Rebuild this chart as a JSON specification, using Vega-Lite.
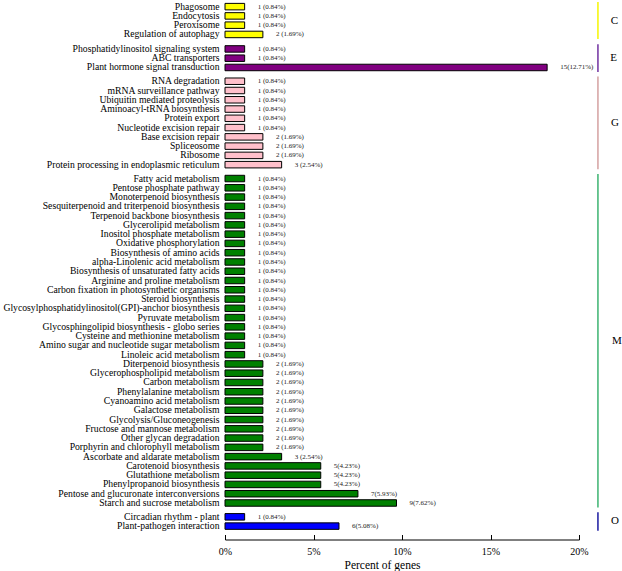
{
  "$schema": "https://vega.github.io/schema/vega-lite/v6.json",
  "padding": {"top": 1, "left": 0, "right": 0, "bottom": 0},
  "background": "white",
  "bounds": "flush",
  "data": {"values": [
    {"group": "C", "pathway": "Phagosome", "value": 1.11, "label": "1 (0.84%)"},
    {"group": "C", "pathway": "Endocytosis", "value": 1.11, "label": "1 (0.84%)"},
    {"group": "C", "pathway": "Peroxisome", "value": 1.11, "label": "1 (0.84%)"},
    {"group": "C", "pathway": "Regulation  of  autophagy", "value": 2.14, "label": "2 (1.69%)"},
    {"group": "E", "pathway": "Phosphatidylinositol  signaling  system", "value": 1.11, "label": "1 (0.84%)"},
    {"group": "E", "pathway": "ABC  transporters", "value": 1.11, "label": "1 (0.84%)"},
    {"group": "E", "pathway": "Plant  hormone  signal  transduction", "value": 18.2, "label": "15(12.71%)"},
    {"group": "G", "pathway": "RNA  degradation", "value": 1.11, "label": "1 (0.84%)"},
    {"group": "G", "pathway": "mRNA  surveillance  pathway", "value": 1.11, "label": "1 (0.84%)"},
    {"group": "G", "pathway": "Ubiquitin  mediated  proteolysis", "value": 1.11, "label": "1 (0.84%)"},
    {"group": "G", "pathway": "Aminoacyl-tRNA  biosynthesis", "value": 1.11, "label": "1 (0.84%)"},
    {"group": "G", "pathway": "Protein  export", "value": 1.11, "label": "1 (0.84%)"},
    {"group": "G", "pathway": "Nucleotide  excision  repair", "value": 1.11, "label": "1 (0.84%)"},
    {"group": "G", "pathway": "Base  excision  repair", "value": 2.14, "label": "2 (1.69%)"},
    {"group": "G", "pathway": "Spliceosome", "value": 2.14, "label": "2 (1.69%)"},
    {"group": "G", "pathway": "Ribosome", "value": 2.14, "label": "2 (1.69%)"},
    {"group": "G", "pathway": "Protein  processing  in  endoplasmic  reticulum", "value": 3.2, "label": "3 (2.54%)"},
    {"group": "M", "pathway": "Fatty  acid  metabolism", "value": 1.11, "label": "1 (0.84%)"},
    {"group": "M", "pathway": "Pentose  phosphate  pathway", "value": 1.11, "label": "1 (0.84%)"},
    {"group": "M", "pathway": "Monoterpenoid  biosynthesis", "value": 1.11, "label": "1 (0.84%)"},
    {"group": "M", "pathway": "Sesquiterpenoid  and  triterpenoid  biosynthesis", "value": 1.11, "label": "1 (0.84%)"},
    {"group": "M", "pathway": "Terpenoid  backbone  biosynthesis", "value": 1.11, "label": "1 (0.84%)"},
    {"group": "M", "pathway": "Glycerolipid  metabolism", "value": 1.11, "label": "1 (0.84%)"},
    {"group": "M", "pathway": "Inositol  phosphate  metabolism", "value": 1.11, "label": "1 (0.84%)"},
    {"group": "M", "pathway": "Oxidative  phosphorylation", "value": 1.11, "label": "1 (0.84%)"},
    {"group": "M", "pathway": "Biosynthesis  of  amino  acids", "value": 1.11, "label": "1 (0.84%)"},
    {"group": "M", "pathway": "alpha-Linolenic  acid  metabolism", "value": 1.11, "label": "1 (0.84%)"},
    {"group": "M", "pathway": "Biosynthesis  of  unsaturated  fatty  acids", "value": 1.11, "label": "1 (0.84%)"},
    {"group": "M", "pathway": "Arginine  and  proline  metabolism", "value": 1.11, "label": "1 (0.84%)"},
    {"group": "M", "pathway": "Carbon  fixation  in  photosynthetic  organisms", "value": 1.11, "label": "1 (0.84%)"},
    {"group": "M", "pathway": "Steroid  biosynthesis", "value": 1.11, "label": "1 (0.84%)"},
    {"group": "M", "pathway": "Glycosylphosphatidylinositol(GPI)-anchor  biosynthesis", "value": 1.11, "label": "1 (0.84%)"},
    {"group": "M", "pathway": "Pyruvate  metabolism", "value": 1.11, "label": "1 (0.84%)"},
    {"group": "M", "pathway": "Glycosphingolipid  biosynthesis  - globo  series", "value": 1.11, "label": "1 (0.84%)"},
    {"group": "M", "pathway": "Cysteine  and  methionine  metabolism", "value": 1.11, "label": "1 (0.84%)"},
    {"group": "M", "pathway": "Amino  sugar  and  nucleotide  sugar  metabolism", "value": 1.11, "label": "1 (0.84%)"},
    {"group": "M", "pathway": "Linoleic  acid  metabolism", "value": 1.11, "label": "1 (0.84%)"},
    {"group": "M", "pathway": "Diterpenoid  biosynthesis", "value": 2.14, "label": "2 (1.69%)"},
    {"group": "M", "pathway": "Glycerophospholipid  metabolism", "value": 2.14, "label": "2 (1.69%)"},
    {"group": "M", "pathway": "Carbon  metabolism", "value": 2.14, "label": "2 (1.69%)"},
    {"group": "M", "pathway": "Phenylalanine  metabolism", "value": 2.14, "label": "2 (1.69%)"},
    {"group": "M", "pathway": "Cyanoamino  acid  metabolism", "value": 2.14, "label": "2 (1.69%)"},
    {"group": "M", "pathway": "Galactose  metabolism", "value": 2.14, "label": "2 (1.69%)"},
    {"group": "M", "pathway": "Glycolysis/Gluconeogenesis", "value": 2.14, "label": "2 (1.69%)"},
    {"group": "M", "pathway": "Fructose  and  mannose  metabolism", "value": 2.14, "label": "2 (1.69%)"},
    {"group": "M", "pathway": "Other  glycan  degradation", "value": 2.14, "label": "2 (1.69%)"},
    {"group": "M", "pathway": "Porphyrin  and  chlorophyll  metabolism", "value": 2.14, "label": "2 (1.69%)"},
    {"group": "M", "pathway": "Ascorbate  and  aldarate  metabolism", "value": 3.2, "label": "3 (2.54%)"},
    {"group": "M", "pathway": "Carotenoid  biosynthesis", "value": 5.41, "label": "5(4.23%)"},
    {"group": "M", "pathway": "Glutathione  metabolism", "value": 5.41, "label": "5(4.23%)"},
    {"group": "M", "pathway": "Phenylpropanoid  biosynthesis", "value": 5.41, "label": "5(4.23%)"},
    {"group": "M", "pathway": "Pentose  and  glucuronate  interconversions", "value": 7.51, "label": "7(5.93%)"},
    {"group": "M", "pathway": "Starch  and  sucrose  metabolism", "value": 9.69, "label": "9(7.62%)"},
    {"group": "O", "pathway": "Circadian  rhythm  - plant", "value": 1.11, "label": "1 (0.84%)"},
    {"group": "O", "pathway": "Plant-pathogen  interaction", "value": 6.44, "label": "6(5.08%)"}
  ]},
  "facet": {
    "row": {
      "field": "group",
      "type": "nominal",
      "sort": ["C", "E", "G", "M", "O"],
      "header": {
        "title": null,
        "labelOrient": "right",
        "labelAngle": 0,
        "labelAlign": "center",
        "labelBaseline": "middle",
        "labelFont": "Liberation Serif",
        "labelFontSize": 11,
        "labelColor": "black",
        "labelPadding": 28
      }
    }
  },
  "spacing": {"row": 4.3},
  "resolve": {"scale": {"y": "independent"}},
  "spec": {
    "width": 354,
    "height": {"step": 9.27},
    "layer": [
      {
        "mark": {"type": "bar", "stroke": "black", "strokeWidth": 1},
        "encoding": {
          "y": {
            "field": "pathway",
            "type": "nominal",
            "sort": null,
            "scale": {"paddingInner": 0.3, "paddingOuter": 0.15},
            "axis": {
              "title": null,
              "domain": false,
              "ticks": false,
              "labelPadding": 6,
              "labelFont": "Liberation Serif",
              "labelFontSize": 9.7,
              "labelColor": "black",
              "labelLimit": 0
            }
          },
          "x": {
            "field": "value",
            "type": "quantitative",
            "scale": {"domain": [0, 20], "nice": false},
            "axis": {
              "values": [0, 5, 10, 15, 20],
              "labelExpr": "datum.value + '%'",
              "labelFlush": false,
              "grid": false,
              "offset": 8.5,
              "tickSize": -5,
              "tickColor": "black",
              "domainColor": "black",
              "labelPadding": 12,
              "labelFont": "Liberation Serif",
              "labelFontSize": 10,
              "labelColor": "black",
              "title": "Percent of genes",
              "titleFont": "Liberation Serif",
              "titleFontSize": 11.5,
              "titleFontWeight": "normal",
              "titleColor": "black",
              "titleX": 157,
              "titleY": 20,
              "titleAlign": "center",
              "titleBaseline": "top"
            }
          },
          "fill": {
            "field": "group",
            "type": "nominal",
            "scale": {"domain": ["C", "E", "G", "M", "O"], "range": ["#ffff00", "#800080", "#ffc0cb", "#008000", "#0000ff"]},
            "legend": null
          }
        }
      },
      {
        "mark": {"type": "text", "align": "left", "baseline": "middle", "dx": 13, "font": "Liberation Serif", "fontSize": 7, "color": "#222"},
        "encoding": {
          "y": {"field": "pathway", "type": "nominal", "sort": null},
          "x": {"field": "value", "type": "quantitative"},
          "text": {"field": "label"}
        }
      },
      {
        "transform": [{"aggregate": [{"op": "count", "as": "n"}], "groupby": ["group"]}],
        "mark": {"type": "rule", "strokeWidth": 1.5, "clip": false},
        "encoding": {
          "x": {"datum": 21.07, "type": "quantitative"},
          "stroke": {
            "field": "group",
            "type": "nominal",
            "scale": {"domain": ["C", "E", "G", "M", "O"], "range": ["#f5f500", "#7030a0", "#d4a0a0", "#3cb371", "#1a1aa0"]},
            "legend": null
          }
        }
      }
    ]
  },
  "config": {
    "view": {"stroke": null}
  }
}
